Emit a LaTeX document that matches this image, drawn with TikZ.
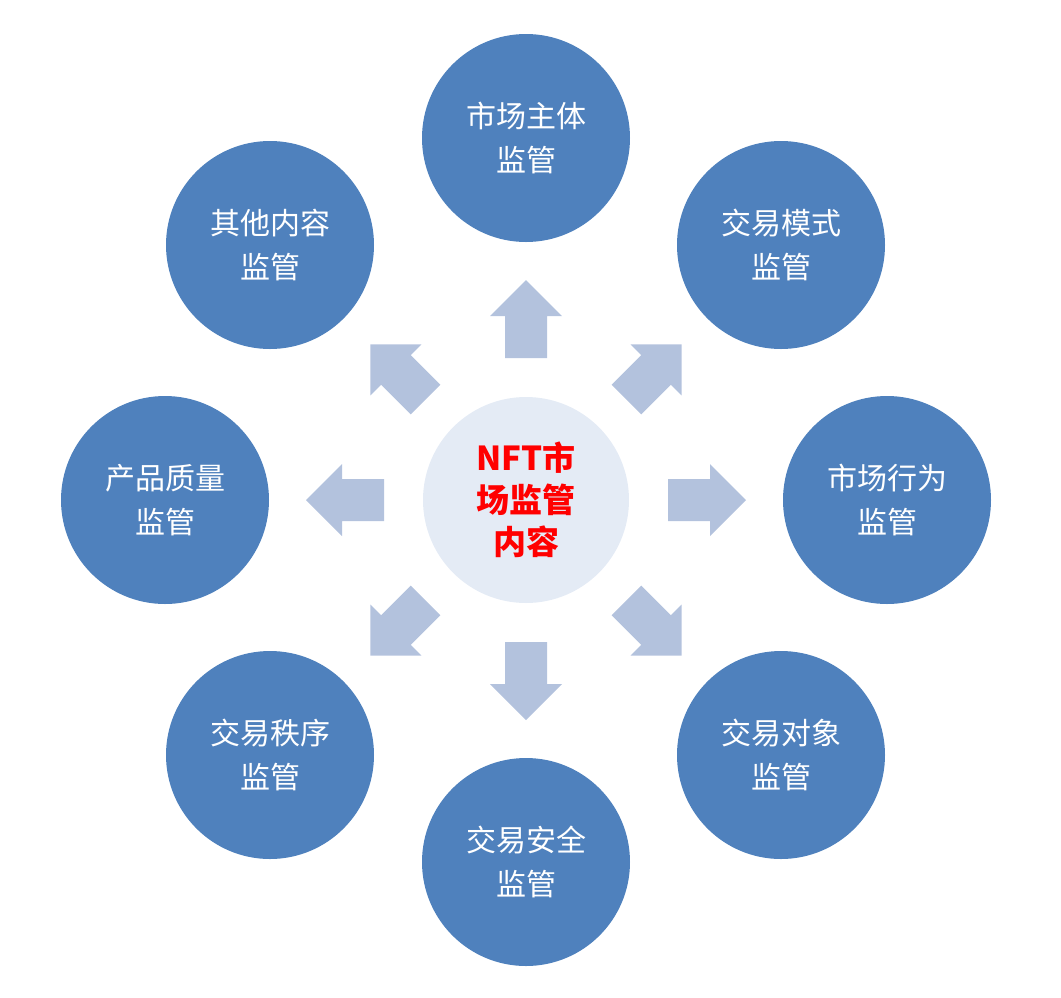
\documentclass[tikz,border=0pt]{standalone}
\usepackage{fontspec}
\newfontfamily\cjk{Noto Sans CJK SC}
\definecolor{outerblue}{HTML}{4F81BD}
\definecolor{centerfill}{HTML}{E4EBF5}
\definecolor{arrowblue}{HTML}{B3C2DD}
\begin{document}
\begin{tikzpicture}[x=1pt,y=-1pt,
  outer/.style={circle,fill=outerblue,minimum size=208pt,inner sep=0pt,text=white,align=center,font=\cjk\fontsize{30}{44}\selectfont},
  ctr/.style={circle,fill=centerfill,minimum size=206pt,inner sep=0pt,text=red,align=center,font=\cjk\bfseries\fontsize{33}{42}\selectfont}]
\useasboundingbox (0,0) rectangle (1061,997);
\node[ctr] (c) at (526,500) {NFT市\\场监管\\内容};
\node[outer] (n1) at (526,138) {市场主体\\监管};
\node[outer] (n2) at (781,245) {交易模式\\监管};
\node[outer] (n3) at (887,500) {市场行为\\监管};
\node[outer] (n4) at (781,755) {交易对象\\监管};
\node[outer] (n5) at (526,862) {交易安全\\监管};
\node[outer] (n6) at (270,755) {交易秩序\\监管};
\node[outer] (n7) at (165,500) {产品质量\\监管};
\node[outer] (n8) at (270,245) {其他内容\\监管};
\foreach \a in {0,45,...,315}{
  \fill[arrowblue,shift={(c.center)},rotate=\a]
    (142,-21) -- (184,-21) -- (184,-36) -- (220,0) -- (184,36) -- (184,21) -- (142,21) -- cycle;
}
\end{tikzpicture}
\end{document}
